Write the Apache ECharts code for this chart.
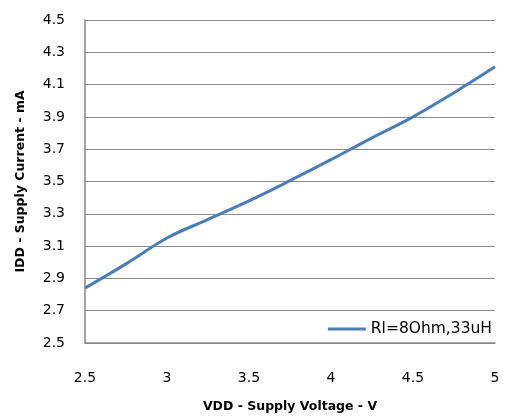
<!DOCTYPE html>
<html><head><meta charset="utf-8">
<script src="https://cdn.jsdelivr.net/npm/echarts@6/dist/echarts.min.js"></script>
<style>html,body{margin:0;padding:0;background:#fff}#c{width:505px;height:418px}</style>
</head><body><div id="c"></div>
<script>
var voltage = [2.5, 2.75, 3.0, 3.25, 3.5, 3.75, 4.0, 4.25, 4.5, 4.75, 5.0];
var current = [2.84, 2.99, 3.15, 3.265, 3.38, 3.505, 3.635, 3.77, 3.9, 4.05, 4.21];
var seriesName = 'Rl=8Ohm,33uH';
var xTitle = 'VDD - Supply Voltage - V';
var yTitle = 'IDD - Supply Current - mA';

var font = 'DejaVu Sans';
var chart = echarts.init(document.getElementById('c'), null, {renderer: 'canvas'});
chart.setOption({
  animation: false,
  backgroundColor: '#fff',
  grid: {left: 85, right: 10, top: 20, bottom: 68, containLabel: false},
  legend: {
    right: 8, top: 316, itemWidth: 38, itemHeight: 3, itemGap: 6,
    icon: 'rect',
    textStyle: {fontFamily: font, fontSize: 15.5, color: '#000'},
    data: [seriesName]
  },
  xAxis: {
    type: 'value', min: 2.5, max: 5, interval: 0.5,
    name: xTitle, nameLocation: 'middle', nameGap: 57,
    nameTextStyle: {fontFamily: font, fontSize: 12.5, fontWeight: 'bold', color: '#000'},
    axisLine: {lineStyle: {color: '#868686', width: 1.5}},
    axisTick: {show: false},
    splitLine: {show: false},
    axisLabel: {fontFamily: font, fontSize: 14, color: '#000', margin: 28}
  },
  yAxis: {
    type: 'value', min: 2.5, max: 4.5, interval: 0.2,
    name: yTitle, nameLocation: 'middle', nameGap: 58,
    nameTextStyle: {fontFamily: font, fontSize: 12.5, fontWeight: 'bold', color: '#000'},
    axisLine: {show: true, lineStyle: {color: '#868686', width: 1.5}},
    axisTick: {show: false},
    splitLine: {lineStyle: {color: '#8c8c8c', width: 1}},
    axisLabel: {fontFamily: font, fontSize: 14, color: '#000', margin: 20,
      formatter: function (v) { return v.toFixed(1); }}
  },
  series: [{
    name: seriesName, type: 'line', smooth: 0.4, showSymbol: false,
    lineStyle: {color: '#4A7EBB', width: 3},
    itemStyle: {color: '#4A7EBB'},
    data: voltage.map(function (v, i) { return [v, current[i]]; })
  }]
});
</script></body></html>
